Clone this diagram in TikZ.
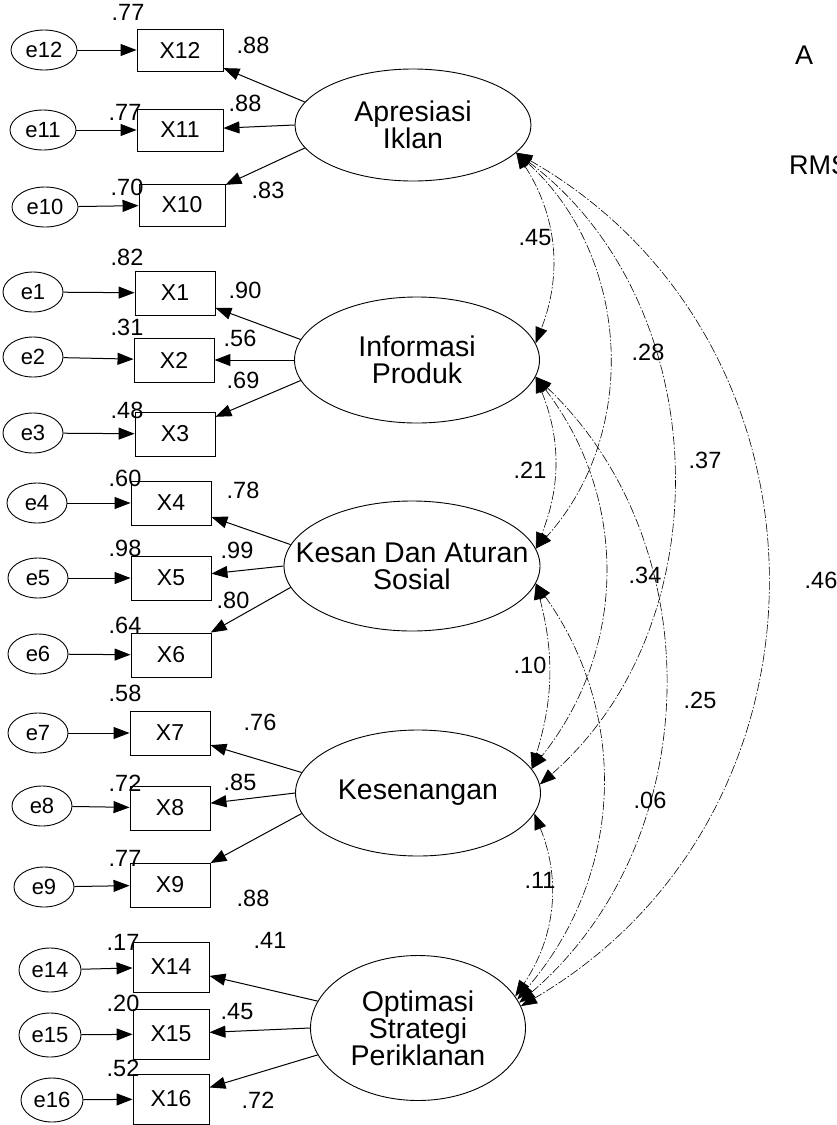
\documentclass[tikz,border=0pt]{standalone}
\usepackage{fontspec}
\setmainfont{Liberation Sans}
\usetikzlibrary{arrows.meta,shapes.geometric}

\begin{document}
\begin{tikzpicture}[
  x=1pt,y=1pt,
  >={Triangle[length=16pt,width=12pt]},
  latent/.style={draw=black, ellipse, line width=0.9pt, inner sep=0pt},
  lattext/.style={align=center, font=\fontsize{28.5}{27}\selectfont, inner sep=0pt},
  obs/.style={draw=black, rectangle, line width=0.9pt, minimum width=80pt,
              minimum height=44pt, inner sep=0pt, font=\fontsize{23}{24}\selectfont},
  obsw/.style={obs, minimum width=86pt, minimum height=42pt},
  obst/.style={obs, minimum width=76pt, minimum height=50pt},
  err/.style={draw=black, ellipse, line width=0.9pt, minimum width=60pt,
              minimum height=40pt, inner sep=0pt, font=\fontsize{22}{22}\selectfont},
  errw/.style={err, minimum width=66pt},
  coef/.style={font=\fontsize{23.5}{24}\selectfont, inner sep=0pt},
  fitstat/.style={font=\fontsize{27}{28}\selectfont, inner sep=0pt, anchor=west},
  arr/.style={->, line width=1pt},
  cov/.style={<->, line width=0.6pt, dash pattern=on 9pt off 2pt on 1.5pt off 2pt}
]
\useasboundingbox (0,0) rectangle (836,-1125);

% latent variables
\node[latent, minimum width=236pt, minimum height=112pt] (apr) at (413,-125) {};
\node[lattext] (aprtext) at (apr) {Apresiasi\\Iklan};
\node[latent, minimum width=245pt, minimum height=126pt] (info) at (417,-360) {};
\node[lattext] (infotext) at (info) {Informasi\\Produk};
\node[latent, minimum width=256pt, minimum height=130pt] (kesan) at (412,-566) {};
\node[lattext] (kesantext) at (kesan) {Kesan Dan Aturan\\Sosial};
\node[latent, minimum width=245pt, minimum height=126pt] (kesen) at (418,-793) {};
\node[lattext] (kesentext) at (kesen) {Kesenangan};
\node[latent, minimum width=215pt, minimum height=145pt] (optim) at (418,-1028) {};
\node[lattext] (optimtext) at (optim) {Optimasi\\Strategi\\Periklanan};

% indicators and errors
\node[errw] (e12) at (44,-50) {e12};
\node[obsw] (x12) at (180,-50) {X12};
\node[errw] (e11) at (43,-130) {e11};
\node[obsw] (x11) at (180,-130) {X11};
\node[errw] (e10) at (45,-207) {e10};
\node[obsw] (x10) at (182,-205) {X10};

\node[err] (e1) at (33,-292) {e1};
\node[obs] (x1) at (175,-293) {X1};
\node[err] (e2) at (33,-357) {e2};
\node[obs] (x2) at (174,-360) {X2};
\node[err] (e3) at (33,-433) {e3};
\node[obs] (x3) at (175,-434) {X3};

\node[err] (e4) at (37,-503) {e4};
\node[obs] (x4) at (171,-503) {X4};
\node[err] (e5) at (38,-578) {e5};
\node[obs] (x5) at (171,-578) {X5};
\node[err] (e6) at (38,-654) {e6};
\node[obs] (x6) at (171,-655) {X6};

\node[err] (e7) at (38,-733) {e7};
\node[obs] (x7) at (170,-733) {X7};
\node[err] (e8) at (42,-806) {e8};
\node[obs] (x8) at (170,-808) {X8};
\node[err] (e9) at (44,-887) {e9};
\node[obs] (x9) at (170,-885) {X9};

\node[err, minimum width=62pt, minimum height=44pt] (e14) at (50,-970) {e14};
\node[obst] (x14) at (171,-967) {X14};
\node[err, minimum width=62pt, minimum height=44pt] (e15) at (50,-1035) {e15};
\node[obst] (x15) at (171,-1034) {X15};
\node[err, minimum width=62pt, minimum height=44pt] (e16) at (52,-1100) {e16};
\node[obst] (x16) at (171,-1099) {X16};

% error paths
\draw[arr] (e12) -- (x12);
\draw[arr] (e11) -- (x11);
\draw[arr] (e10) -- (x10);
\draw[arr] (e1) -- (x1);
\draw[arr] (e2) -- (x2);
\draw[arr] (e3) -- (x3);
\draw[arr] (e4) -- (x4);
\draw[arr] (e5) -- (x5);
\draw[arr] (e6) -- (x6);
\draw[arr] (e7) -- (x7);
\draw[arr] (e8) -- (x8);
\draw[arr] (e9) -- (x9);
\draw[arr] (e14) -- (x14);
\draw[arr] (e15) -- (x15);
\draw[arr] (e16) -- (x16);

% loadings
\draw[arr] (apr.168) -- (x12);
\draw[arr] (apr.180) -- (x11);
\draw[arr] (apr.192) -- (x10);
\draw[arr] (info.170) -- (x1);
\draw[arr] (info.180) -- (x2);
\draw[arr] (info.190) -- (x3);
\draw[arr] (kesan.170) -- (x4);
\draw[arr] (kesan.180) -- (x5);
\draw[arr] (kesan.190) -- (x6);
\draw[arr] (kesen.170) -- (x7);
\draw[arr] (kesen.180) -- (x8);
\draw[arr] (kesen.190) -- (x9);
\draw[arr] (optim.165) -- (x14);
\draw[arr] (optim.180) -- (x15);
\draw[arr] (optim.195) -- (x16);

% squared multiple correlations
\node[coef] (r12) at (128,-12) {.77};
\node[coef] (r11) at (125,-112) {.77};
\node[coef] (r10) at (127,-187) {.70};
\node[coef] (r1) at (127,-257) {.82};
\node[coef] (r2) at (127,-327) {.31};
\node[coef] (r3) at (127,-410) {.48};
\node[coef] (r4) at (125,-478) {.60};
\node[coef] (r5) at (125,-548) {.98};
\node[coef] (r6) at (125,-625) {.64};
\node[coef] (r7) at (125,-693) {.58};
\node[coef] (r8) at (125,-783) {.72};
\node[coef] (r9) at (125,-858) {.77};
\node[coef] (r14) at (123,-942) {.17};
\node[coef] (r15) at (123,-1003) {.20};
\node[coef] (r16) at (123,-1068) {.52};

% standardized loadings
\node[coef] (l12) at (253,-45) {.88};
\node[coef] (l11) at (245,-103) {.88};
\node[coef] (l10) at (268,-190) {.83};
\node[coef] (l1) at (245,-290) {.90};
\node[coef] (l2) at (240,-338) {.56};
\node[coef] (l3) at (243,-380) {.69};
\node[coef] (l4) at (243,-490) {.78};
\node[coef] (l5) at (237,-550) {.99};
\node[coef] (l6) at (233,-600) {.80};
\node[coef] (l7) at (260,-722) {.76};
\node[coef] (l8) at (240,-782) {.85};
\node[coef] (l9) at (253,-898) {.88};
\node[coef] (l14) at (270,-940) {.41};
\node[coef] (l15) at (237,-1012) {.45};
\node[coef] (l16) at (258,-1100) {.72};

% correlations between latents
\draw[cov] (apr.-15) to[bend left=27] (info.8);
\draw[cov] (apr.-15) to[bend left=45] (kesan.8);
\draw[cov] (apr.-15) to[bend left=51] (kesen.4);
\draw[cov] (apr.-15) to[bend left=60, looseness=1.14] (optim.12);
\draw[cov] (info.-8) to[bend left=22] (kesan.8);
\draw[cov] (info.-8) to[bend left=38] (kesen.12);
\draw[cov] (info.-8) to[bend left=48] (optim.14);
\draw[cov] (kesan.-8) to[bend left=16] (kesen.12);
\draw[cov] (kesan.-8) to[bend left=38] (optim.16);
\draw[cov] (kesen.-10) to[bend left=28] (optim.18);

\node[coef] (capin) at (535,-238) {.45};
\node[coef] (capks) at (648,-352) {.28};
\node[coef] (capkg) at (705,-460) {.37};
\node[coef] (capop) at (821,-580) {.46};
\node[coef] (cinks) at (530,-470) {.21};
\node[coef] (cinkg) at (645,-575) {.34};
\node[coef] (cinop) at (700,-700) {.25};
\node[coef] (ckskg) at (530,-665) {.10};
\node[coef] (cksop) at (650,-800) {.06};
\node[coef] (ckgop) at (540,-880) {.11};

% fit statistics, cut at the edge
\node[fitstat] (fitA) at (795,-55) {A};
\node[fitstat] (fitR) at (789,-165) {RMS};

\end{tikzpicture}
\end{document}
